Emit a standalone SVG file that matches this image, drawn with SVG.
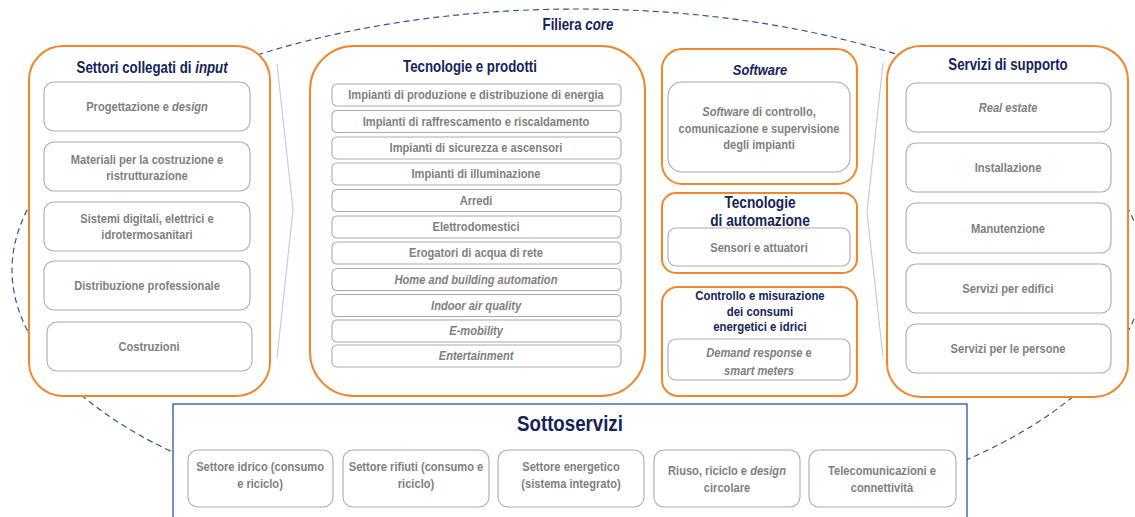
<svg xmlns="http://www.w3.org/2000/svg" width="1135" height="517" viewBox="0 0 1135 517">
<style>
.panel{fill:#fff;stroke:#F0862E;stroke-width:2}
.box{fill:#fff;stroke:#ABABAB;stroke-width:1.1}
.t{font-family:"Liberation Sans Narrow","Liberation Sans",Arial,sans-serif;font-weight:bold;text-anchor:middle;transform-box:fill-box;transform-origin:center;transform:scaleX(0.83)}
.h{fill:#14245A;font-size:16px}
.h2{fill:#14245A;font-size:15.5px}
.h4{fill:#14245A;font-size:16.5px}
.h3{fill:#14245A;font-size:13.7px}
.g{fill:#7F7F7F;font-size:13.4px}
.i{font-style:italic}
.chev{fill:none;stroke:#C8C8C8;stroke-width:1.1}
.dash{fill:none;stroke:#2F5597;stroke-width:1.2;stroke-dasharray:6 4}
</style>
<rect width="1135" height="517" fill="#fff"/>
<g id="connectors">
<ellipse class="dash" cx="578" cy="270" rx="566" ry="261"/>
<polyline class="chev" points="277,64 293,210 277,358"/>
<polyline class="chev" points="883,63 867,212 883,357"/>
</g>
<g id="filiera-core"><text class="t h" x="578" y="30">Filiera <tspan class="i">core</tspan></text></g>

<g id="settori-input">
<rect class="panel" x="29" y="46" width="241" height="350" rx="34"/>
<text class="t h" x="152" y="73">Settori collegati di <tspan class="i">input</tspan></text>
<rect class="box" x="44" y="82" width="206" height="49" rx="10"/>
<text class="t g" x="147" y="111">Progettazione e <tspan class="i">design</tspan></text>
<rect class="box" x="44" y="142" width="206" height="49" rx="10"/>
<text class="t g" x="147" y="164">Materiali per la costruzione e</text>
<text class="t g" x="147" y="180">ristrutturazione</text>
<rect class="box" x="44" y="202" width="206" height="49" rx="10"/>
<text class="t g" x="147" y="223">Sistemi digitali, elettrici e</text>
<text class="t g" x="147" y="239">idrotermosanitari</text>
<rect class="box" x="44" y="261" width="206" height="49" rx="10"/>
<text class="t g" x="147" y="290">Distribuzione professionale</text>
<rect class="box" x="47" y="322" width="205" height="49" rx="10"/>
<text class="t g" x="149" y="351">Costruzioni</text>
</g>

<g id="tecnologie-prodotti">
<rect class="panel" x="310" y="46" width="335" height="350" rx="44"/>
<text class="t h" x="470" y="72">Tecnologie e prodotti</text>
<rect class="box" x="332" y="84" width="289" height="22" rx="5"/>
<text class="t g" x="476" y="99.5">Impianti di produzione e distribuzione di energia</text>
<rect class="box" x="332" y="110.5" width="289" height="22" rx="5"/>
<text class="t g" x="476" y="126">Impianti di raffrescamento e riscaldamento</text>
<rect class="box" x="332" y="137" width="289" height="22" rx="5"/>
<text class="t g" x="476" y="152.5">Impianti di sicurezza e ascensori</text>
<rect class="box" x="332" y="163" width="289" height="22" rx="5"/>
<text class="t g" x="476" y="178.5">Impianti di illuminazione</text>
<rect class="box" x="332" y="189.5" width="289" height="22" rx="5"/>
<text class="t g" x="476" y="205">Arredi</text>
<rect class="box" x="332" y="216" width="289" height="22" rx="5"/>
<text class="t g" x="476" y="231.5">Elettrodomestici</text>
<rect class="box" x="332" y="242" width="289" height="22" rx="5"/>
<text class="t g" x="476" y="257.5">Erogatori di acqua di rete</text>
<rect class="box" x="332" y="268.5" width="289" height="22" rx="5"/>
<text class="t g i" x="476" y="284">Home and building automation</text>
<rect class="box" x="332" y="294.5" width="289" height="22" rx="5"/>
<text class="t g i" x="476" y="310">Indoor air quality</text>
<rect class="box" x="332" y="320" width="289" height="22" rx="5"/>
<text class="t g i" x="476" y="335.5">E-mobility</text>
<rect class="box" x="332" y="345" width="289" height="22" rx="5"/>
<text class="t g i" x="476" y="360.5">Entertainment</text>
</g>

<g id="software">
<rect class="panel" x="662" y="49" width="195" height="135" rx="20"/>
<text class="t h2 i" x="760" y="75">Software</text>
<rect class="box" x="668" y="82" width="182" height="90" rx="14"/>
<text class="t g" x="759" y="116"><tspan class="i">Software</tspan> di controllo,</text>
<text class="t g" x="759" y="133">comunicazione e supervisione</text>
<text class="t g" x="759" y="149">degli impianti</text>
</g>

<g id="tecnologie-automazione">
<rect class="panel" x="662" y="193" width="195" height="80" rx="14"/>
<text class="t h4" x="760" y="208">Tecnologie</text>
<text class="t h4" x="760" y="226">di automazione</text>
<rect class="box" x="668" y="228" width="182" height="38" rx="8"/>
<text class="t g" x="759" y="252">Sensori e attuatori</text>
</g>

<g id="controllo-misurazione">
<rect class="panel" x="662" y="287" width="195" height="109" rx="16"/>
<text class="t h3" x="760" y="300">Controllo e misurazione</text>
<text class="t h3" x="760" y="316">dei consumi</text>
<text class="t h3" x="760" y="331">energetici e idrici</text>
<rect class="box" x="668" y="339" width="182" height="41" rx="8"/>
<text class="t g" x="759" y="357"><tspan class="i">Demand response</tspan> e</text>
<text class="t g i" x="759" y="375">smart meters</text>
</g>

<g id="servizi-supporto">
<rect class="panel" x="887" y="46" width="241" height="351" rx="34"/>
<text class="t h" x="1008" y="70">Servizi di supporto</text>
<rect class="box" x="906" y="83" width="205" height="49" rx="10"/>
<text class="t g i" x="1008" y="112">Real estate</text>
<rect class="box" x="906" y="143" width="205" height="49" rx="10"/>
<text class="t g" x="1008" y="172">Installazione</text>
<rect class="box" x="906" y="203" width="205" height="50" rx="10"/>
<text class="t g" x="1008" y="233">Manutenzione</text>
<rect class="box" x="906" y="264" width="205" height="49" rx="10"/>
<text class="t g" x="1008" y="293">Servizi per edifici</text>
<rect class="box" x="906" y="324" width="205" height="49" rx="10"/>
<text class="t g" x="1008" y="353">Servizi per le persone</text>
</g>

<g id="sottoservizi">
<rect x="173" y="404" width="794" height="120" fill="#fff" stroke="#2F5597" stroke-width="1.3"/>
<text class="t h" style="font-size:22.5px" x="570" y="431">Sottoservizi</text>
<rect class="box" x="188" y="450" width="145" height="57" rx="10"/>
<text class="t g" x="260" y="471">Settore idrico (consumo</text>
<text class="t g" x="260" y="488">e riciclo)</text>
<rect class="box" x="343" y="450" width="146" height="57" rx="10"/>
<text class="t g" x="416" y="471">Settore rifiuti (consumo e</text>
<text class="t g" x="416" y="488">riciclo)</text>
<rect class="box" x="498" y="450" width="146" height="57" rx="10"/>
<text class="t g" x="571" y="471">Settore energetico</text>
<text class="t g" x="571" y="488">(sistema integrato)</text>
<rect class="box" x="654" y="450" width="146" height="57" rx="10"/>
<text class="t g" x="727" y="475">Riuso, riciclo e <tspan class="i">design</tspan></text>
<text class="t g" x="727" y="492">circolare</text>
<rect class="box" x="809" y="450" width="147" height="57" rx="10"/>
<text class="t g" x="882" y="475">Telecomunicazioni e</text>
<text class="t g" x="882" y="492">connettività</text>
</g>
</svg>
